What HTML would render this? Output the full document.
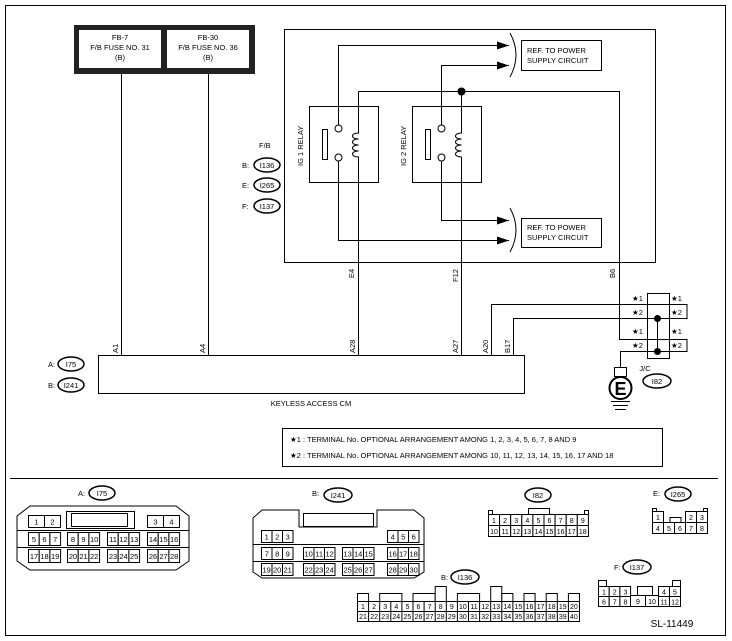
<!DOCTYPE html>
<html><head><meta charset="utf-8"><style>
html,body{margin:0;padding:0;background:#fff}
svg{display:block}
text{font-family:"Liberation Sans",Arial,sans-serif;fill:#000}
</style></head><body>
<svg width="732" height="641" viewBox="0 0 732 641" xmlns="http://www.w3.org/2000/svg">
<defs>
<marker id="ar" markerWidth="12" markerHeight="8" refX="12" refY="4" orient="auto" markerUnits="userSpaceOnUse"><path d="M0,0 L12,4 L0,8 z" fill="#000"/></marker>
</defs>
<g fill="none" stroke="#000" stroke-width="1">
<rect x="5.5" y="5.5" width="720" height="630"/>
<line x1="10" y1="478.5" x2="718" y2="478.5"/>
</g>
<rect x="74" y="25" width="181" height="49" fill="#222"/>
<rect x="79" y="30" width="82" height="38" fill="#fff"/>
<rect x="167" y="30" width="82" height="38" fill="#fff"/>
<g font-size="7.5" text-anchor="middle">
<text x="120" y="40">FB-7</text><text x="120" y="50">F/B FUSE NO. 31</text><text x="120" y="60">(B)</text>
<text x="208" y="40">FB-30</text><text x="208" y="50">F/B FUSE NO. 36</text><text x="208" y="60">(B)</text>
</g>
<g fill="none" stroke="#000" stroke-width="1">
<line x1="121.5" y1="74" x2="121.5" y2="355"/>
<line x1="208.5" y1="74" x2="208.5" y2="355"/>
<rect x="284.5" y="29.5" width="371" height="233"/>
<rect x="309.5" y="106.5" width="69" height="76"/>
<rect x="412.5" y="106.5" width="69" height="76"/>
<rect x="322.5" y="129.5" width="5" height="30"/>
<rect x="425.5" y="129.5" width="5" height="30"/>
<circle cx="338.5" cy="128.5" r="3.5"/><circle cx="338.5" cy="157.5" r="3.5"/>
<circle cx="441.5" cy="128.5" r="3.5"/><circle cx="441.5" cy="157.5" r="3.5"/>
<path d="M338.5,125 V45.5 H509" marker-end="url(#ar)"/>
<path d="M441.5,125 V65.5 H509" marker-end="url(#ar)"/>
<path d="M441.5,161 V220.5 H509" marker-end="url(#ar)"/>
<path d="M338.5,161 V240.5 H509" marker-end="url(#ar)"/>
<path d="M510,33 Q522,55 510,77"/>
<path d="M510,208 Q522,230 510,252"/>
<rect x="521.5" y="40.5" width="80" height="30"/>
<rect x="521.5" y="218.5" width="80" height="29"/>
<path d="M358.5,91.5 V133 c-8,0 -8,6 0,6 c-8,0 -8,6 0,6 c-8,0 -8,6 0,6 c-8,0 -8,6 0,6 V355"/>
<path d="M358.5,91.5 H619.5 V339.5 H687 V351.5 H620.5 V367"/>
<path d="M461.5,91.5 V133 c-8,0 -8,6 0,6 c-8,0 -8,6 0,6 c-8,0 -8,6 0,6 c-8,0 -8,6 0,6 V355"/>
<path d="M491.5,355 V304.5 H687 V318.5 H513.5 V355"/>
<rect x="647.5" y="293.5" width="22" height="65"/>
<line x1="657.5" y1="318" x2="657.5" y2="351"/>
<rect x="614.5" y="367.5" width="12" height="9"/>
<rect x="98.5" y="355.5" width="426" height="38"/>
<rect x="282.5" y="428.5" width="380" height="38"/>
</g>
<circle cx="461.5" cy="91.5" r="4" fill="#000"/>
<circle cx="657.5" cy="318.5" r="3.5" fill="#000"/>
<circle cx="657.5" cy="351.5" r="3.5" fill="#000"/>
<circle cx="620.5" cy="388" r="11" fill="#fff" stroke="#000" stroke-width="2"/>
<text x="620.5" y="395" font-size="18" font-weight="bold" text-anchor="middle">E</text>
<g stroke="#000"><line x1="611" y1="401.5" x2="630" y2="401.5"/><line x1="613" y1="405.5" x2="628" y2="405.5"/><line x1="615" y1="409.5" x2="626" y2="409.5"/></g>
<g font-size="7.5">
<text x="527" y="53">REF. TO POWER</text><text x="527" y="63">SUPPLY CIRCUIT</text>
<text x="527" y="230">REF. TO POWER</text><text x="527" y="240">SUPPLY CIRCUIT</text>
<text transform="translate(303,166) rotate(-90)">IG 1 RELAY</text>
<text transform="translate(406,166) rotate(-90)">IG 2 RELAY</text>
<text transform="translate(354,278) rotate(-90)">E4</text>
<text transform="translate(458,282) rotate(-90)">F12</text>
<text transform="translate(615,278) rotate(-90)">B6</text>
<text transform="translate(118,353) rotate(-90)">A1</text>
<text transform="translate(205,353) rotate(-90)">A4</text>
<text transform="translate(355,353) rotate(-90)">A28</text>
<text transform="translate(458,353) rotate(-90)">A27</text>
<text transform="translate(488,353) rotate(-90)">A20</text>
<text transform="translate(510,353) rotate(-90)">B17</text>
<text x="259" y="148">F/B</text>
<text x="242" y="168">B:</text><text x="242" y="188">E:</text><text x="242" y="209">F:</text>
<text x="48" y="367">A:</text><text x="48" y="388">B:</text>
<text x="645" y="371" text-anchor="middle">J/C</text>
<text x="311" y="406" text-anchor="middle">KEYLESS ACCESS CM</text>
<text x="632" y="301">★1</text><text x="632" y="315">★2</text><text x="632" y="334">★1</text><text x="632" y="348">★2</text>
<text x="671" y="301">★1</text><text x="671" y="315">★2</text><text x="671" y="334">★1</text><text x="671" y="348">★2</text>
<text x="290" y="442">★1  : TERMINAL No. OPTIONAL ARRANGEMENT AMONG 1, 2, 3, 4, 5, 6, 7, 8 AND 9</text>
<text x="290" y="458">★2  : TERMINAL No. OPTIONAL ARRANGEMENT AMONG 10, 11, 12, 13, 14, 15, 16, 17 AND 18</text>
<text x="78" y="496">A:</text><text x="312" y="496">B:</text><text x="653" y="496">E:</text>
<text x="441" y="580">B:</text><text x="614" y="570">F:</text>
</g>
<text x="672" y="627" font-size="10" text-anchor="middle">SL-11449</text>
<g fill="#fff" stroke="#000" stroke-width="1.5">
<ellipse cx="267" cy="165" rx="13" ry="7"/><ellipse cx="267" cy="185" rx="13" ry="7"/><ellipse cx="267" cy="206" rx="13" ry="7"/>
<ellipse cx="71" cy="364" rx="13" ry="7"/><ellipse cx="71" cy="385" rx="13" ry="7"/>
<ellipse cx="657" cy="381" rx="14" ry="7"/>
<ellipse cx="102" cy="493" rx="13" ry="7"/><ellipse cx="338" cy="495" rx="14" ry="7"/>
<ellipse cx="538" cy="495" rx="13" ry="7"/><ellipse cx="678" cy="494" rx="13" ry="7"/>
<ellipse cx="465" cy="577" rx="14" ry="7"/><ellipse cx="637" cy="567" rx="14" ry="7"/>
</g>
<g font-size="7.5" text-anchor="middle">
<text x="267" y="168">I136</text><text x="267" y="188">I265</text><text x="267" y="209">I137</text>
<text x="71" y="367">I75</text><text x="71" y="388">I241</text><text x="657" y="384">I82</text>
<text x="102" y="496">I75</text><text x="338" y="498">I241</text><text x="538" y="498">I82</text>
<text x="678" y="497">I265</text><text x="465" y="580">I136</text><text x="637" y="570">I137</text>
</g>
<!-- connector outlines -->
<g fill="none" stroke="#000" stroke-width="1">
<path d="M30,506 H176 L189,516 V561 L176,570 H30 L17,561 V516 Z"/>
<line x1="17" y1="530.5" x2="189" y2="530.5"/><line x1="17" y1="547.5" x2="189" y2="547.5"/>
<rect x="66.5" y="511.5" width="68" height="17"/><rect x="71.5" y="513.5" width="56" height="13"/>
<path d="M262,510 H299 V527 H377 V510 H414 L424,518 V572 L414,578 H262 L253,572 V518 Z"/>
<line x1="253" y1="544.5" x2="424" y2="544.5"/><line x1="253" y1="561.5" x2="424" y2="561.5"/>
<rect x="303.5" y="513.5" width="70" height="13"/>
<path d="M488.5,514 V510.5 H492.5 V514 M588.5,514 V510.5 H584.5 V514 M528.5,514 V508.5 H549.5 V514"/>
<path d="M652.5,511 V508.5 H656.5 V511 M707.5,511 V508.5 H703.5 V511 M670,522 V517.5 H681 V522"/>
<path d="M598.5,586 V580.5 H606.5 V586 M680.5,586 V580.5 H672.5 V586 M637.5,595 V586.5 H652.5 V595"/>
</g>
<g fill="#fff" stroke="#000" stroke-width="1">
<!-- A -->
<rect x="28.5" y="515.5" width="16" height="12"/><rect x="44.5" y="515.5" width="16" height="12"/>
<rect x="147.5" y="515.5" width="16" height="12"/><rect x="163.5" y="515.5" width="16" height="12"/>
<rect x="28.5" y="532.5" width="10.7" height="13"/><rect x="39.2" y="532.5" width="10.7" height="13"/><rect x="49.9" y="532.5" width="10.7" height="13"/>
<rect x="67.5" y="532.5" width="10.7" height="13"/><rect x="78.2" y="532.5" width="10.7" height="13"/><rect x="88.9" y="532.5" width="10.7" height="13"/>
<rect x="107.5" y="532.5" width="10.7" height="13"/><rect x="118.2" y="532.5" width="10.7" height="13"/><rect x="128.9" y="532.5" width="10.7" height="13"/>
<rect x="147.5" y="532.5" width="10.7" height="13"/><rect x="158.2" y="532.5" width="10.7" height="13"/><rect x="168.9" y="532.5" width="10.7" height="13"/>
<rect x="28.5" y="549.5" width="10.7" height="13"/><rect x="39.2" y="549.5" width="10.7" height="13"/><rect x="49.9" y="549.5" width="10.7" height="13"/>
<rect x="67.5" y="549.5" width="10.7" height="13"/><rect x="78.2" y="549.5" width="10.7" height="13"/><rect x="88.9" y="549.5" width="10.7" height="13"/>
<rect x="107.5" y="549.5" width="10.7" height="13"/><rect x="118.2" y="549.5" width="10.7" height="13"/><rect x="128.9" y="549.5" width="10.7" height="13"/>
<rect x="147.5" y="549.5" width="10.7" height="13"/><rect x="158.2" y="549.5" width="10.7" height="13"/><rect x="168.9" y="549.5" width="10.7" height="13"/>
<!-- B I241 -->
<rect x="261.5" y="530.5" width="10.5" height="12"/><rect x="272" y="530.5" width="10.5" height="12"/><rect x="282.5" y="530.5" width="10.5" height="12"/>
<rect x="387.5" y="530.5" width="10.5" height="12"/><rect x="398" y="530.5" width="10.5" height="12"/><rect x="408.5" y="530.5" width="10.5" height="12"/>
<rect x="261.5" y="547.5" width="10.5" height="12"/><rect x="272" y="547.5" width="10.5" height="12"/><rect x="282.5" y="547.5" width="10.5" height="12"/>
<rect x="303.5" y="547.5" width="10.5" height="12"/><rect x="314" y="547.5" width="10.5" height="12"/><rect x="324.5" y="547.5" width="10.5" height="12"/>
<rect x="342.5" y="547.5" width="10.5" height="12"/><rect x="353" y="547.5" width="10.5" height="12"/><rect x="363.5" y="547.5" width="10.5" height="12"/>
<rect x="387.5" y="547.5" width="10.5" height="12"/><rect x="398" y="547.5" width="10.5" height="12"/><rect x="408.5" y="547.5" width="10.5" height="12"/>
<rect x="261.5" y="563.5" width="10.5" height="12"/><rect x="272" y="563.5" width="10.5" height="12"/><rect x="282.5" y="563.5" width="10.5" height="12"/>
<rect x="303.5" y="563.5" width="10.5" height="12"/><rect x="314" y="563.5" width="10.5" height="12"/><rect x="324.5" y="563.5" width="10.5" height="12"/>
<rect x="342.5" y="563.5" width="10.5" height="12"/><rect x="353" y="563.5" width="10.5" height="12"/><rect x="363.5" y="563.5" width="10.5" height="12"/>
<rect x="387.5" y="563.5" width="10.5" height="12"/><rect x="398" y="563.5" width="10.5" height="12"/><rect x="408.5" y="563.5" width="10.5" height="12"/>
<!-- I82 -->
<rect x="488.5" y="514.5" width="11.1" height="11"/><rect x="499.6" y="514.5" width="11.1" height="11"/><rect x="510.7" y="514.5" width="11.1" height="11"/><rect x="521.8" y="514.5" width="11.1" height="11"/><rect x="532.9" y="514.5" width="11.1" height="11"/><rect x="544" y="514.5" width="11.1" height="11"/><rect x="555.1" y="514.5" width="11.1" height="11"/><rect x="566.2" y="514.5" width="11.1" height="11"/><rect x="577.3" y="514.5" width="11.1" height="11"/>
<rect x="488.5" y="525.5" width="11.1" height="11"/><rect x="499.6" y="525.5" width="11.1" height="11"/><rect x="510.7" y="525.5" width="11.1" height="11"/><rect x="521.8" y="525.5" width="11.1" height="11"/><rect x="532.9" y="525.5" width="11.1" height="11"/><rect x="544" y="525.5" width="11.1" height="11"/><rect x="555.1" y="525.5" width="11.1" height="11"/><rect x="566.2" y="525.5" width="11.1" height="11"/><rect x="577.3" y="525.5" width="11.1" height="11"/>
<!-- I265 -->
<rect x="652.5" y="511.5" width="11" height="11"/><rect x="685.5" y="511.5" width="11" height="11"/><rect x="696.5" y="511.5" width="11" height="11"/>
<rect x="652.5" y="522.5" width="11" height="11"/><rect x="663.5" y="522.5" width="11" height="11"/><rect x="674.5" y="522.5" width="11" height="11"/><rect x="685.5" y="522.5" width="11" height="11"/><rect x="696.5" y="522.5" width="11" height="11"/>
<!-- I136 tabs -->
<rect x="357.5" y="593.5" width="11.1" height="8"/><rect x="379.7" y="593.5" width="22.2" height="8"/><rect x="413" y="593.5" width="22.2" height="8"/><rect x="435.2" y="586.5" width="11.1" height="15"/><rect x="457.4" y="593.5" width="22.2" height="8"/><rect x="490.7" y="586.5" width="11.1" height="15"/><rect x="501.8" y="593.5" width="11.1" height="8"/><rect x="524" y="593.5" width="11.1" height="8"/><rect x="546.2" y="593.5" width="11.1" height="8"/><rect x="568.4" y="593.5" width="11.1" height="8"/>
</g>
<!-- I136 grid -->
<g fill="none" stroke="#000" stroke-width="1">
<rect x="357.5" y="601.5" width="222" height="20" fill="#fff"/>
<line x1="357.5" y1="611.5" x2="579.5" y2="611.5"/>
<path d="M368.6,601.5V621.5M379.7,601.5V621.5M390.8,601.5V621.5M401.9,601.5V621.5M413,601.5V621.5M424.1,601.5V621.5M435.2,601.5V621.5M446.3,601.5V621.5M457.4,601.5V621.5M468.5,601.5V621.5M479.6,601.5V621.5M490.7,601.5V621.5M501.8,601.5V621.5M512.9,601.5V621.5M524,601.5V621.5M535.1,601.5V621.5M546.2,601.5V621.5M557.3,601.5V621.5M568.4,601.5V621.5"/>
</g>
<!-- I137 -->
<g fill="#fff" stroke="#000" stroke-width="1">
<rect x="598.5" y="586.5" width="10.7" height="10"/><rect x="609.2" y="586.5" width="10.7" height="10"/><rect x="619.9" y="586.5" width="10.7" height="10"/>
<rect x="598.5" y="596.5" width="10.7" height="10"/><rect x="609.2" y="596.5" width="10.7" height="10"/><rect x="619.9" y="596.5" width="10.7" height="10"/>
<rect x="630.5" y="595.5" width="15" height="11"/><rect x="645.5" y="595.5" width="13" height="11"/>
<rect x="658.5" y="586.5" width="11" height="10"/><rect x="669.5" y="586.5" width="11" height="10"/>
<rect x="658.5" y="596.5" width="11" height="10"/><rect x="669.5" y="596.5" width="11" height="10"/>
</g>
<g font-size="7.5" text-anchor="middle">
<text x="36.5" y="524.5">1</text><text x="52.5" y="524.5">2</text><text x="155.5" y="524.5">3</text><text x="171.5" y="524.5">4</text>
<text x="34" y="542">5</text><text x="44.5" y="542">6</text><text x="55.2" y="542">7</text>
<text x="73" y="542">8</text><text x="83.5" y="542">9</text><text x="94.2" y="542">10</text>
<text x="113" y="542">11</text><text x="123.5" y="542">12</text><text x="134.2" y="542">13</text>
<text x="153" y="542">14</text><text x="163.5" y="542">15</text><text x="174.2" y="542">16</text>
<text x="34" y="559">17</text><text x="44.5" y="559">18</text><text x="55.2" y="559">19</text>
<text x="73" y="559">20</text><text x="83.5" y="559">21</text><text x="94.2" y="559">22</text>
<text x="113" y="559">23</text><text x="123.5" y="559">24</text><text x="134.2" y="559">25</text>
<text x="153" y="559">26</text><text x="163.5" y="559">27</text><text x="174.2" y="559">28</text>

<text x="266.7" y="539.5">1</text><text x="277.2" y="539.5">2</text><text x="287.7" y="539.5">3</text>
<text x="392.7" y="539.5">4</text><text x="403.2" y="539.5">5</text><text x="413.7" y="539.5">6</text>
<text x="266.7" y="556.5">7</text><text x="277.2" y="556.5">8</text><text x="287.7" y="556.5">9</text>
<text x="308.7" y="556.5">10</text><text x="319.2" y="556.5">11</text><text x="329.7" y="556.5">12</text>
<text x="347.7" y="556.5">13</text><text x="358.2" y="556.5">14</text><text x="368.7" y="556.5">15</text>
<text x="392.7" y="556.5">16</text><text x="403.2" y="556.5">17</text><text x="413.7" y="556.5">18</text>
<text x="266.7" y="572.5">19</text><text x="277.2" y="572.5">20</text><text x="287.7" y="572.5">21</text>
<text x="308.7" y="572.5">22</text><text x="319.2" y="572.5">23</text><text x="329.7" y="572.5">24</text>
<text x="347.7" y="572.5">25</text><text x="358.2" y="572.5">26</text><text x="368.7" y="572.5">27</text>
<text x="392.7" y="572.5">28</text><text x="403.2" y="572.5">29</text><text x="413.7" y="572.5">30</text>
</g>
<g font-size="7" text-anchor="middle">
<text x="494" y="523">1</text><text x="505.1" y="523">2</text><text x="516.2" y="523">3</text><text x="527.3" y="523">4</text><text x="538.4" y="523">5</text><text x="549.5" y="523">6</text><text x="560.6" y="523">7</text><text x="571.7" y="523">8</text><text x="582.8" y="523">9</text>
<text x="494" y="534">10</text><text x="505.1" y="534">11</text><text x="516.2" y="534">12</text><text x="527.3" y="534">13</text><text x="538.4" y="534">14</text><text x="549.5" y="534">15</text><text x="560.6" y="534">16</text><text x="571.7" y="534">17</text><text x="582.8" y="534">18</text>
<text x="658" y="520">1</text><text x="691" y="520">2</text><text x="702" y="520">3</text>
<text x="658" y="531">4</text><text x="669" y="531">5</text><text x="680" y="531">6</text><text x="691" y="531">7</text><text x="702" y="531">8</text>
<text x="363" y="609">1</text><text x="374.1" y="609">2</text><text x="385.2" y="609">3</text><text x="396.3" y="609">4</text><text x="407.4" y="609">5</text><text x="418.5" y="609">6</text><text x="429.6" y="609">7</text><text x="440.7" y="609">8</text><text x="451.8" y="609">9</text><text x="462.9" y="609">10</text><text x="474" y="609">11</text><text x="485.1" y="609">12</text><text x="496.2" y="609">13</text><text x="507.3" y="609">14</text><text x="518.4" y="609">15</text><text x="529.5" y="609">16</text><text x="540.6" y="609">17</text><text x="551.7" y="609">18</text><text x="562.8" y="609">19</text><text x="573.9" y="609">20</text>
<text x="363" y="619">21</text><text x="374.1" y="619">22</text><text x="385.2" y="619">23</text><text x="396.3" y="619">24</text><text x="407.4" y="619">25</text><text x="418.5" y="619">26</text><text x="429.6" y="619">27</text><text x="440.7" y="619">28</text><text x="451.8" y="619">29</text><text x="462.9" y="619">30</text><text x="474" y="619">31</text><text x="485.1" y="619">32</text><text x="496.2" y="619">33</text><text x="507.3" y="619">34</text><text x="518.4" y="619">35</text><text x="529.5" y="619">36</text><text x="540.6" y="619">37</text><text x="551.7" y="619">38</text><text x="562.8" y="619">39</text><text x="573.9" y="619">40</text>
<text x="604" y="594.5">1</text><text x="614.7" y="594.5">2</text><text x="625.4" y="594.5">3</text><text x="664" y="594.5">4</text><text x="675" y="594.5">5</text>
<text x="604" y="604.5">6</text><text x="614.7" y="604.5">7</text><text x="625.4" y="604.5">8</text><text x="638" y="604">9</text><text x="652" y="604">10</text><text x="664" y="604.5">11</text><text x="675" y="604.5">12</text>
</g>
</svg>
</body></html>
